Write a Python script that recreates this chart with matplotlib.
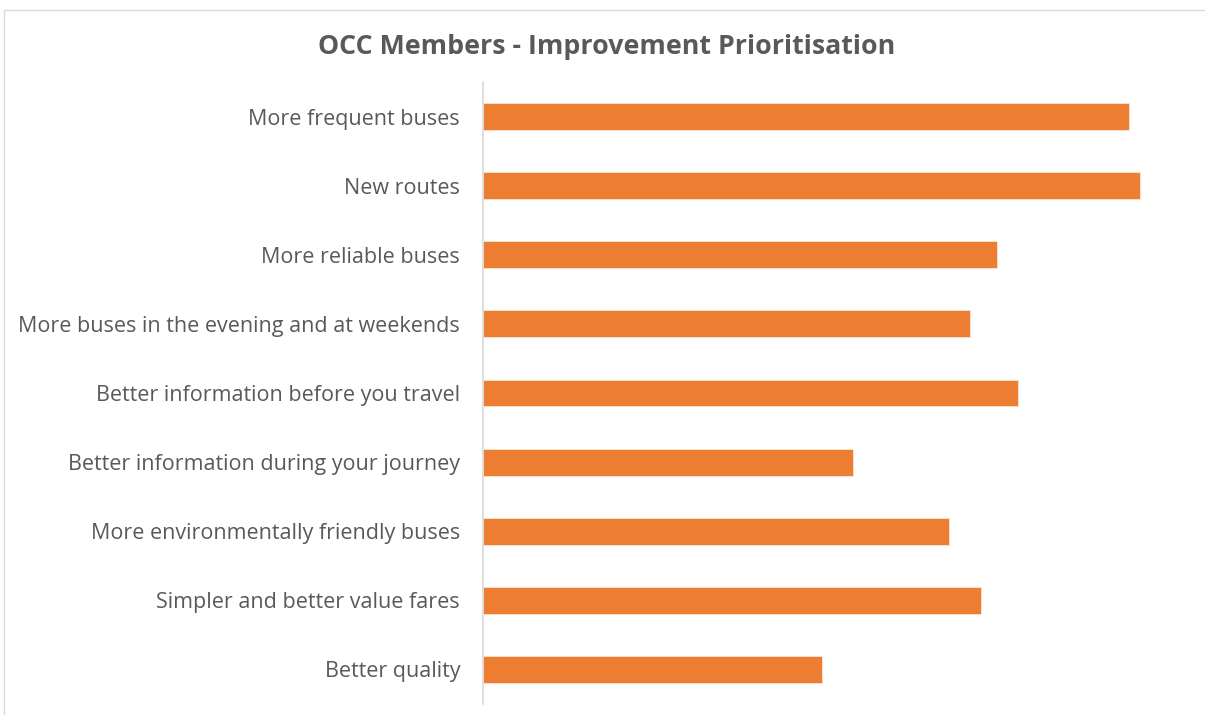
import matplotlib
matplotlib.use("Agg")
import matplotlib.pyplot as plt
from matplotlib.patches import Rectangle

categories = [
    "More frequent buses",
    "New routes",
    "More reliable buses",
    "More buses in the evening and at weekends",
    "Better information before you travel",
    "Better information during your journey",
    "More environmentally friendly buses",
    "Simpler and better value fares",
    "Better quality",
]
values = [646, 657, 514, 487, 535, 370, 466, 498, 339]
title = "OCC Members - Improvement Prioritisation"

W, H = 1205, 715
fig = plt.figure(figsize=(W / 100, H / 100), dpi=100)
fig.patch.set_facecolor("white")

# outer chart-area border
fig.add_artist(Rectangle((4 / W, -0.05), 1.2, 1 - 10 / H + 0.05, transform=fig.transFigure,
                         fill=False, edgecolor="#d9d9d9", linewidth=1))

ax = fig.add_axes([483 / W, 1 - 704 / H, (1190 - 483) / W, (704 - 82) / H])
y = list(range(len(categories)))
ax.barh(y, values, height=0.39, color="#ED7D31", edgecolor="#FBE5D6", linewidth=0.6)
ax.set_ylim(len(categories) - 0.5, -0.5)
ax.set_xlim(0, 707)
ax.set_yticks(y)
ax.set_yticklabels(categories, fontsize=15.5, color="#595959", family="Open Sans")
ax.tick_params(axis="y", length=0, pad=16.5)
ax.set_xticks([])
for s in ["top", "right", "bottom"]:
    ax.spines[s].set_visible(False)
ax.spines["left"].set_color("#d9d9d9")
ax.spines["left"].set_linewidth(1.2)

fig.text(607 / W, 1 - 47 / H, title, ha="center", va="center", fontsize=19.3,
         fontweight="bold", color="#595959", family="Open Sans")

fig.savefig("out.png", dpi=100, facecolor="white")
